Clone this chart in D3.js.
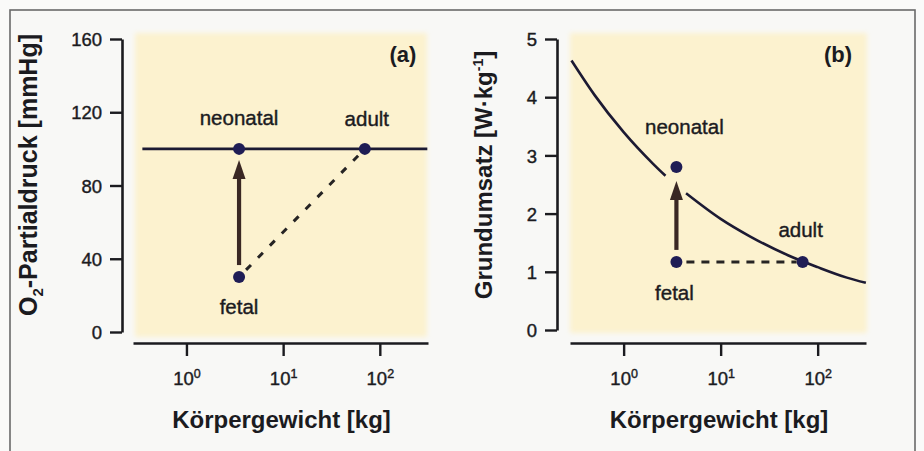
<!DOCTYPE html>
<html>
<head>
<meta charset="utf-8">
<script src="https://cdn.jsdelivr.net/npm/d3@7/dist/d3.min.js"></script>
<style>
  html, body { margin: 0; padding: 0; background: #fafaf9; }
  svg { display: block; font-family: "Liberation Sans", Arial, sans-serif; }
</style>
</head>
<body>
<svg id="chart" width="924" height="451"></svg>
<script>
// ---------- data ----------
const stages = ["fetal", "neonatal", "adult"];
const massKg = [3.5, 3.5, 70];            // body mass (kg)
const po2Values = [30, 100, 100];          // O2 partial pressure (mmHg)
const bmrValues = [1.17, 2.8, 1.17];       // basal metabolic rate (W/kg)

const po2LineMass = [0.35, 310];           // horizontal reference line (a)
const po2LineValue = [100, 100];

// metabolic curve (b), drawn in two pieces (gap at arrow)
const bmrCurveMass1 = [0.29, 0.5, 1, 2, 2.7];
const bmrCurveValue1 = [4.63, 4.04, 3.40, 2.86, 2.65];
const bmrCurveMass2 = [4.4, 10, 20, 50, 100, 200, 314];
const bmrCurveValue2 = [2.35, 1.91, 1.61, 1.28, 1.08, 0.90, 0.81];

const massTicks = [1, 10, 100];
const po2Ticks = [0, 40, 80, 120, 160];
const bmrTicks = [0, 1, 2, 3, 4, 5];
const massDomain = [0.28, 315];
const po2Domain = [0, 160];
const bmrDomain = [0, 5];

// ---------- drawing ----------
const svg = d3.select("#chart");
const ink = "#1b1b1f";
const lineCol = "#1c1a33";
const dotCol = "#1f1d55";
const arrowCol = "#3a2824";

const defs = svg.append("defs");
defs.append("filter").attr("id", "soft").attr("x", "-5%").attr("y", "-5%")
  .attr("width", "110%").attr("height", "110%")
  .append("feGaussianBlur").attr("stdDeviation", 2.5);

// outer frame
svg.append("rect").attr("x", 10).attr("y", 10).attr("width", 905).attr("height", 470)
  .attr("fill", "#f8f8f6").attr("stroke", "#6a6a6a").attr("stroke-width", 1.6);

function heavy(sel, w) {
  return sel.attr("stroke", ink).attr("stroke-width", w).attr("paint-order", "stroke");
}

function drawPanel(cfg) {
  const g = svg.append("g");
  const x = d3.scaleLog().domain(massDomain).range(cfg.xRange);
  const y = d3.scaleLinear().domain(cfg.yDomain).range(cfg.yRange);

  // yellow plot background
  g.append("rect")
    .attr("x", cfg.bg[0]).attr("y", cfg.bg[1])
    .attr("width", cfg.bg[2] - cfg.bg[0]).attr("height", cfg.bg[3] - cfg.bg[1])
    .attr("fill", "#fcf2cf").attr("filter", "url(#soft)");

  // y axis
  const ya = g.append("g").attr("transform", `translate(${cfg.yAxisX},0)`)
    .call(d3.axisLeft(y).tickValues(cfg.yTicks).tickFormat(d3.format("d"))
      .tickSize(12).tickSizeOuter(0).tickPadding(cfg.yPad));
  ya.select(".domain").attr("stroke", ink).attr("stroke-width", 2.6);
  ya.selectAll(".tick line").attr("stroke", ink).attr("stroke-width", 2.4);
  heavy(ya.selectAll(".tick text").attr("font-size", 18.5).attr("fill", ink).attr("dy", "0.36em"), 0.4);

  // x axis
  const xa = g.append("g").attr("transform", `translate(0,${cfg.xAxisY})`)
    .call(d3.axisBottom(x).tickValues(massTicks).tickSize(13).tickSizeOuter(0));
  xa.select(".domain").attr("stroke", ink).attr("stroke-width", 2.6);
  xa.selectAll(".tick line").attr("stroke", ink).attr("stroke-width", 2.4);
  xa.selectAll(".tick text").each(function (d) {
    const t = d3.select(this).text(null).attr("y", 42).attr("dy", 0)
      .attr("fill", ink).attr("font-size", 18.5);
    heavy(t, 0.4);
    t.append("tspan").text("10");
    t.append("tspan").attr("font-size", 12.5).attr("dy", -7).text(String(Math.round(Math.log10(d))));
  });

  // x title
  g.append("text").attr("x", (cfg.xRange[0] + cfg.xRange[1]) / 2 + 1).attr("y", 428)
    .attr("text-anchor", "middle").attr("font-size", 24).attr("font-weight", "bold")
    .attr("fill", ink).text("Körpergewicht [kg]");

  // y title
  const yt = g.append("text")
    .attr("transform", `translate(${cfg.yTitleX},${cfg.yTitleY}) rotate(-90)`)
    .attr("text-anchor", "middle").attr("font-size", cfg.yTitleSize).attr("font-weight", "bold").attr("fill", ink);
  cfg.yTitle(yt);

  // panel letter
  g.append("text").attr("x", cfg.letterX).attr("y", 62).attr("text-anchor", "middle")
    .attr("font-size", 22).attr("font-weight", "bold").attr("fill", ink).text(cfg.letter);

  // reference lines / curves
  const line = d3.line().x(d => x(d[0])).y(d => y(d[1])).curve(d3.curveMonotoneX);
  cfg.curves.forEach(c => {
    g.append("path").attr("d", line(d3.zip(c[0], c[1])))
      .attr("fill", "none").attr("stroke", lineCol).attr("stroke-width", 2.6);
  });

  const pts = stages.map((s, i) => ({ s, px: x(massKg[i]), py: y(cfg.values[i]) }));
  const P = Object.fromEntries(pts.map(p => [p.s, p]));

  // dashed fetal -> adult
  const f = P.fetal, a = P.adult;
  const dx = a.px - f.px, dy = a.py - f.py, len = Math.hypot(dx, dy);
  const ux = dx / len, uy = dy / len;
  g.append("line")
    .attr("x1", f.px + ux * 10).attr("y1", f.py + uy * 10)
    .attr("x2", a.px - ux * 6).attr("y2", a.py - uy * 6)
    .attr("stroke", "#262424").attr("stroke-width", 3).attr("stroke-dasharray", cfg.dash);

  // arrow fetal -> neonatal
  const n = P.neonatal;
  const yStart = f.py - cfg.arrowGap[0];
  const yTip = n.py + cfg.arrowGap[1];
  const headLen = 19, headHalf = 6.5;
  g.append("line").attr("x1", f.px).attr("x2", f.px)
    .attr("y1", yStart).attr("y2", yTip + headLen - 2)
    .attr("stroke", arrowCol).attr("stroke-width", 4.2);
  g.append("path")
    .attr("d", `M${n.px},${yTip}L${n.px - headHalf},${yTip + headLen}L${n.px + headHalf},${yTip + headLen}Z`)
    .attr("fill", arrowCol);

  // points
  g.selectAll("circle.pt").data(pts).join("circle").attr("class", "pt")
    .attr("cx", d => d.px).attr("cy", d => d.py).attr("r", 6).attr("fill", dotCol);

  // point labels
  heavy(g.selectAll("text.lab").data(pts).join("text").attr("class", "lab")
    .attr("x", d => d.px + cfg.labelOff[d.s][0]).attr("y", d => d.py + cfg.labelOff[d.s][1])
    .attr("text-anchor", "middle").attr("font-size", 20.5).attr("fill", ink)
    .text(d => d.s), 0.4);
}

drawPanel({
  xRange: [133, 428], yDomain: po2Domain, yRange: [332, 39], yTicks: po2Ticks,
  bg: [135, 33, 427, 337], yAxisX: 122, xAxisY: 343, yPad: 8,
  yTitleX: 37, yTitleY: 175, yTitleSize: 25,
  yTitle: t => {
    t.append("tspan").text("O");
    t.append("tspan").attr("font-size", 15).attr("dy", 6).text("2");
    t.append("tspan").attr("dy", -6).text("-Partialdruck [mmHg]");
  },
  letter: "(a)", letterX: 403,
  curves: [[po2LineMass, po2LineValue]],
  values: po2Values, dash: "7,10", arrowGap: [12, 11],
  labelOff: { fetal: [0, 37], neonatal: [0, -24], adult: [2, -23] }
});

drawPanel({
  xRange: [570, 866], yDomain: bmrDomain, yRange: [330, 39], yTicks: bmrTicks,
  bg: [570, 33, 867, 333], yAxisX: 557, xAxisY: 343, yPad: 8,
  yTitleX: 492, yTitleY: 175, yTitleSize: 24,
  yTitle: t => {
    t.append("tspan").text("Grundumsatz [W·kg");
    t.append("tspan").attr("font-size", 14).attr("dy", -9).text("-1");
    t.append("tspan").attr("dy", 9).text("]");
  },
  letter: "(b)", letterX: 838,
  curves: [[bmrCurveMass1, bmrCurveValue1], [bmrCurveMass2, bmrCurveValue2]],
  values: bmrValues, dash: "8,7", arrowGap: [12, 14],
  labelOff: { fetal: [-2, 38], neonatal: [8, -33], adult: [-2, -25] }
});
</script>
</body>
</html>
